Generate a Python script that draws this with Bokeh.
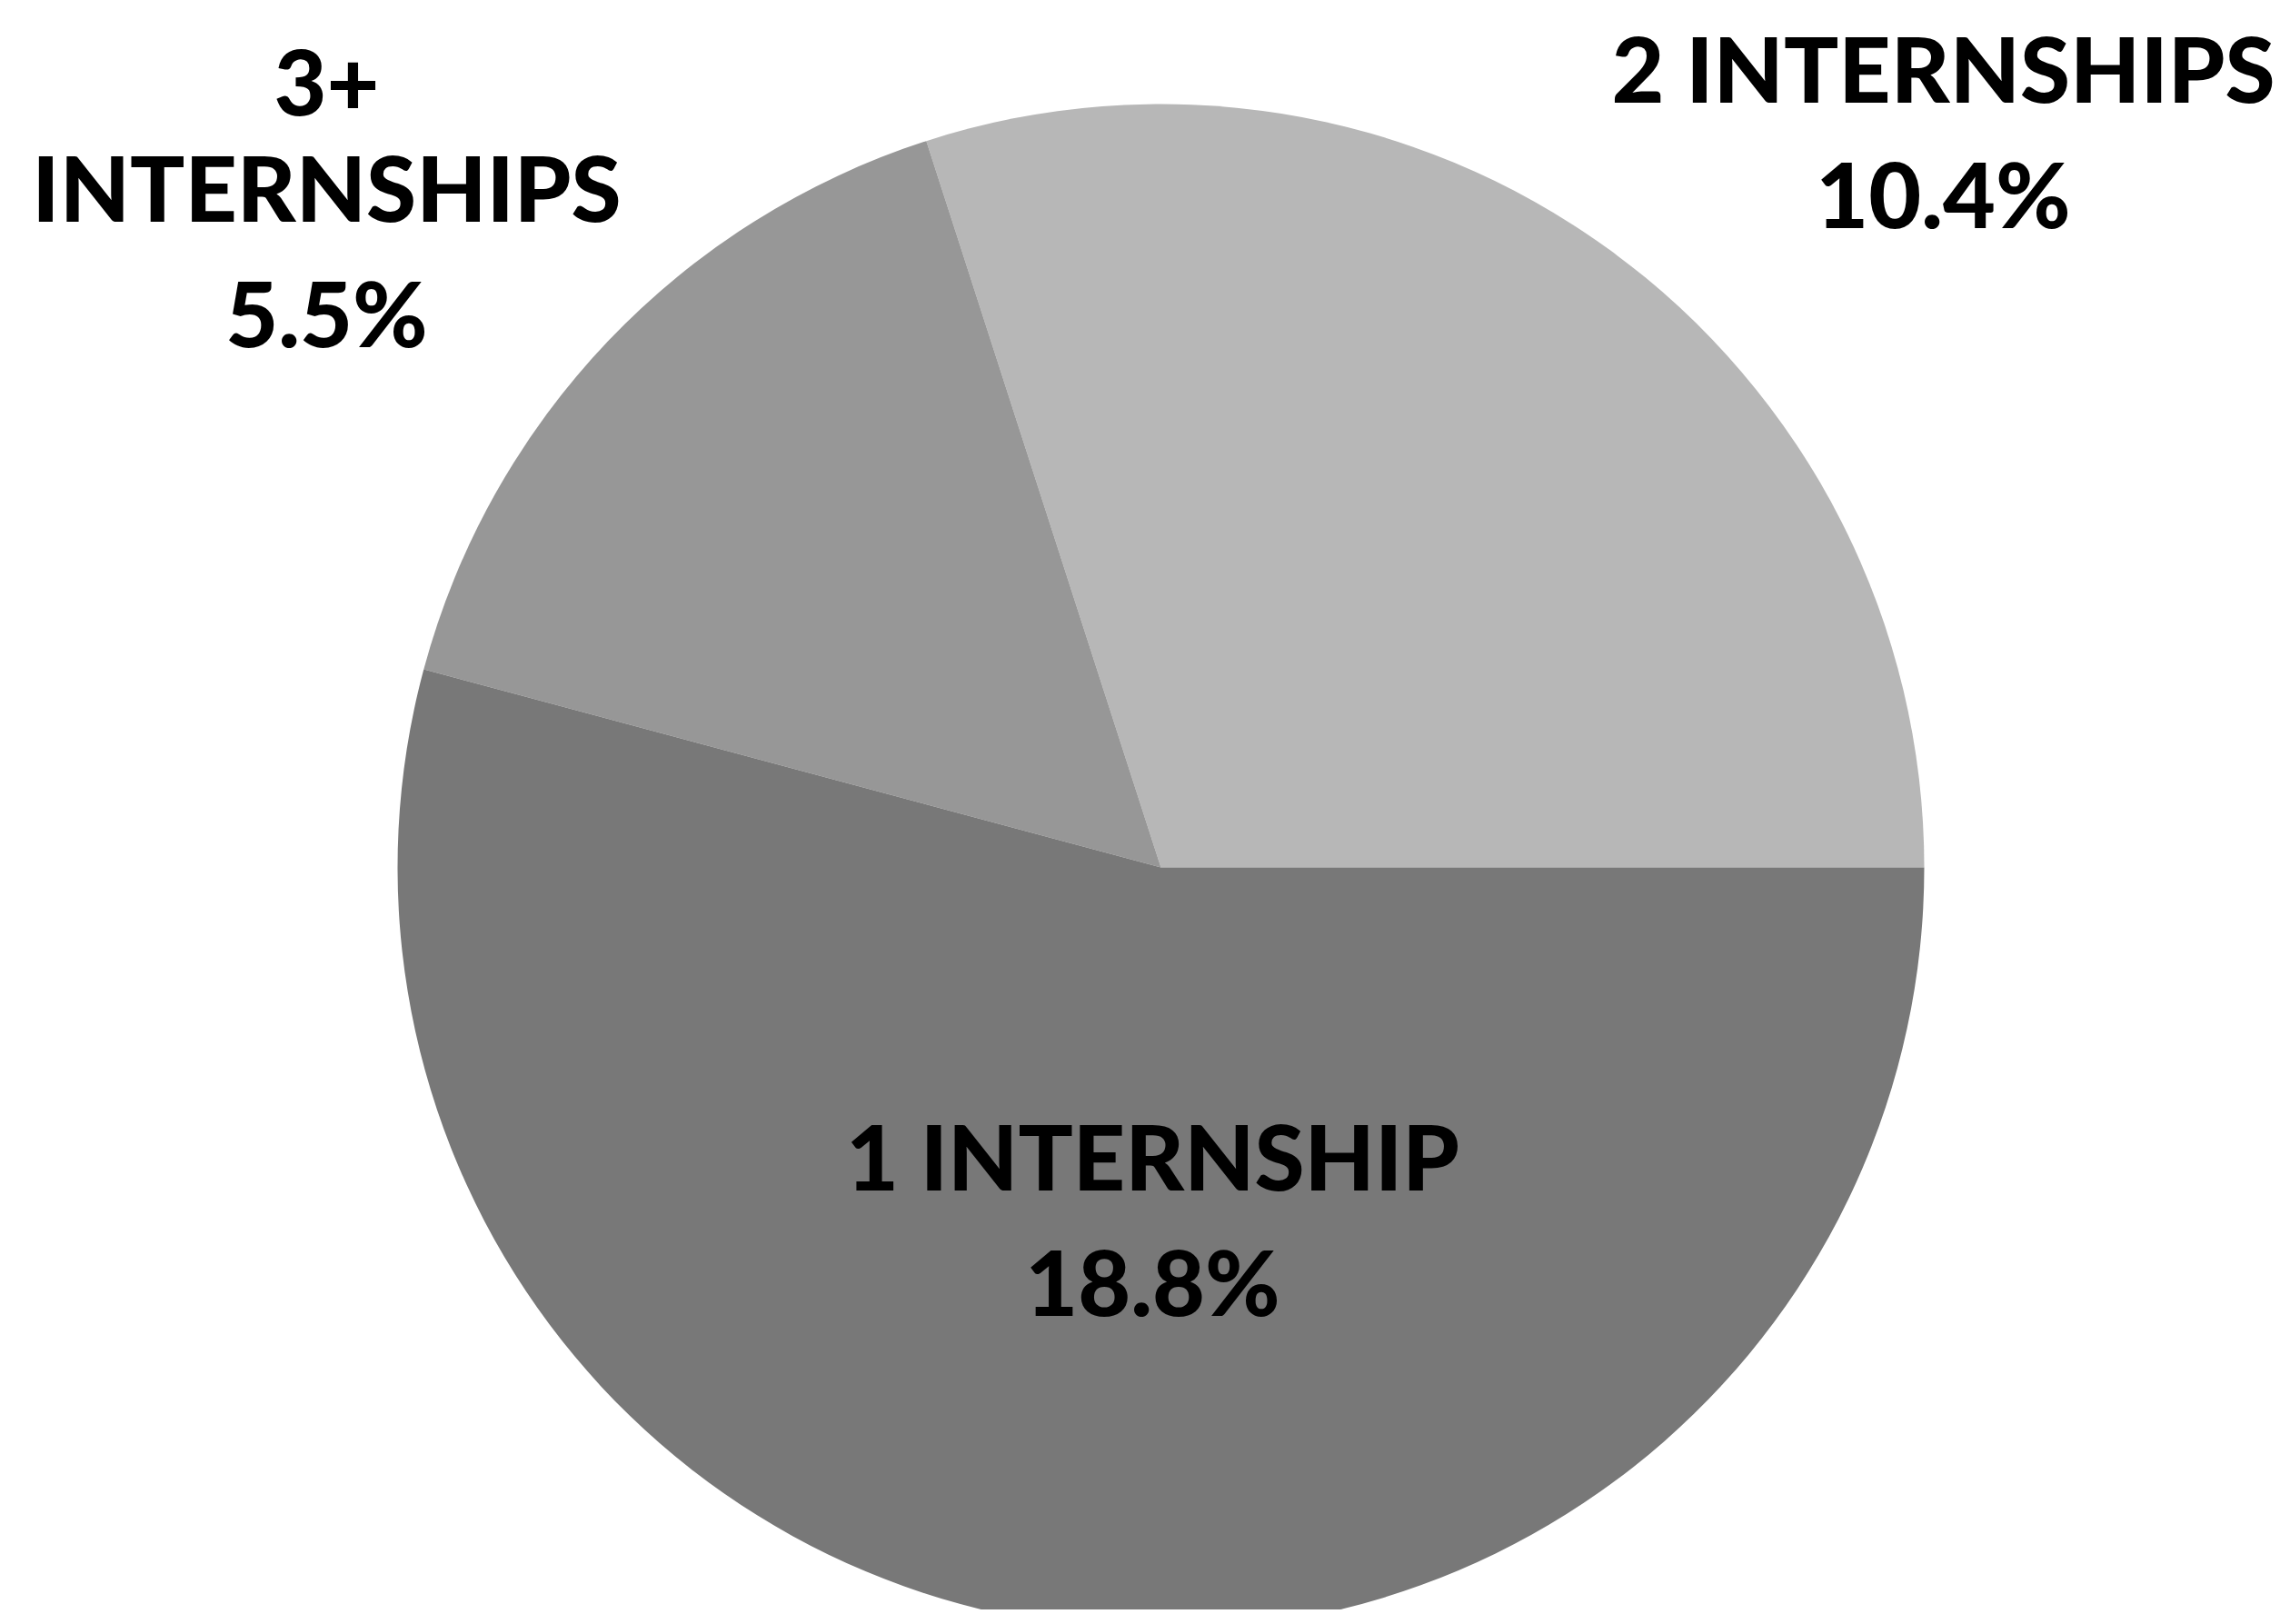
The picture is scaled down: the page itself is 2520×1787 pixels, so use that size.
import math
from bokeh.plotting import figure
from bokeh.models import Range1d, ColumnDataSource
from bokeh.core.properties import value
from bokeh.embed import file_html
from bokeh.resources import INLINE

# ---- data ----
categories = ["2 INTERNSHIPS", "3+ INTERNSHIPS", "1 INTERNSHIP"]
values = [10.4, 5.5, 18.8]
colors = ["#b7b7b7", "#979797", "#787878"]
label_lines = [["2 INTERNSHIPS", "10.4%"], ["3+", "INTERNSHIPS", "5.5%"], ["1 INTERNSHIP", "18.8%"]]

# ---- layout (screen pixels of the page) ----
W, H = 2504, 1771
PAGE_H = 1787
cx, cy_screen, r = 1285, 962, 840
cy = PAGE_H - cy_screen

total = sum(values)
starts, ends = [], []
acc = 0.0
for v in values:
    starts.append(acc / total * 2 * math.pi)
    acc += v
    ends.append(acc / total * 2 * math.pi)

p = figure(width=W, height=H, output_backend="svg", toolbar_location=None,
           x_range=Range1d(8, 8 + W), y_range=Range1d(PAGE_H - 8 - H, PAGE_H - 8),
           min_border=0)
p.xaxis.visible = False
p.yaxis.visible = False
p.xgrid.visible = False
p.ygrid.visible = False
p.outline_line_color = None

src = ColumnDataSource(dict(start=starts, end=ends, color=colors, cat=categories))
p.wedge(x=cx, y=cy, radius=r, start_angle="start", end_angle="end",
        fill_color="color", line_color=None, source=src)

# label anchor positions (screen x centre, first-line baseline y) and line spacing
anchors = [(2146, 120), (367, 113), (1276, 1317)]
line_gap = 138
descent = 21  # baseline -> text bottom
xs, ys, ts = [], [], []
for (ax, ay), lines in zip(anchors, label_lines):
    for i, t in enumerate(lines):
        xs.append(ax)
        ys.append(PAGE_H - (ay + i * line_gap + descent))
        ts.append(t)

tsrc = ColumnDataSource(dict(x=xs, y=ys, text=ts))
p.text(x="x", y="y", text="text", source=tsrc, text_align="center",
       text_font=value("Lato Black"), text_font_size="100px",
       text_color="black")

open("out.html", "w").write(file_html(p, INLINE))
